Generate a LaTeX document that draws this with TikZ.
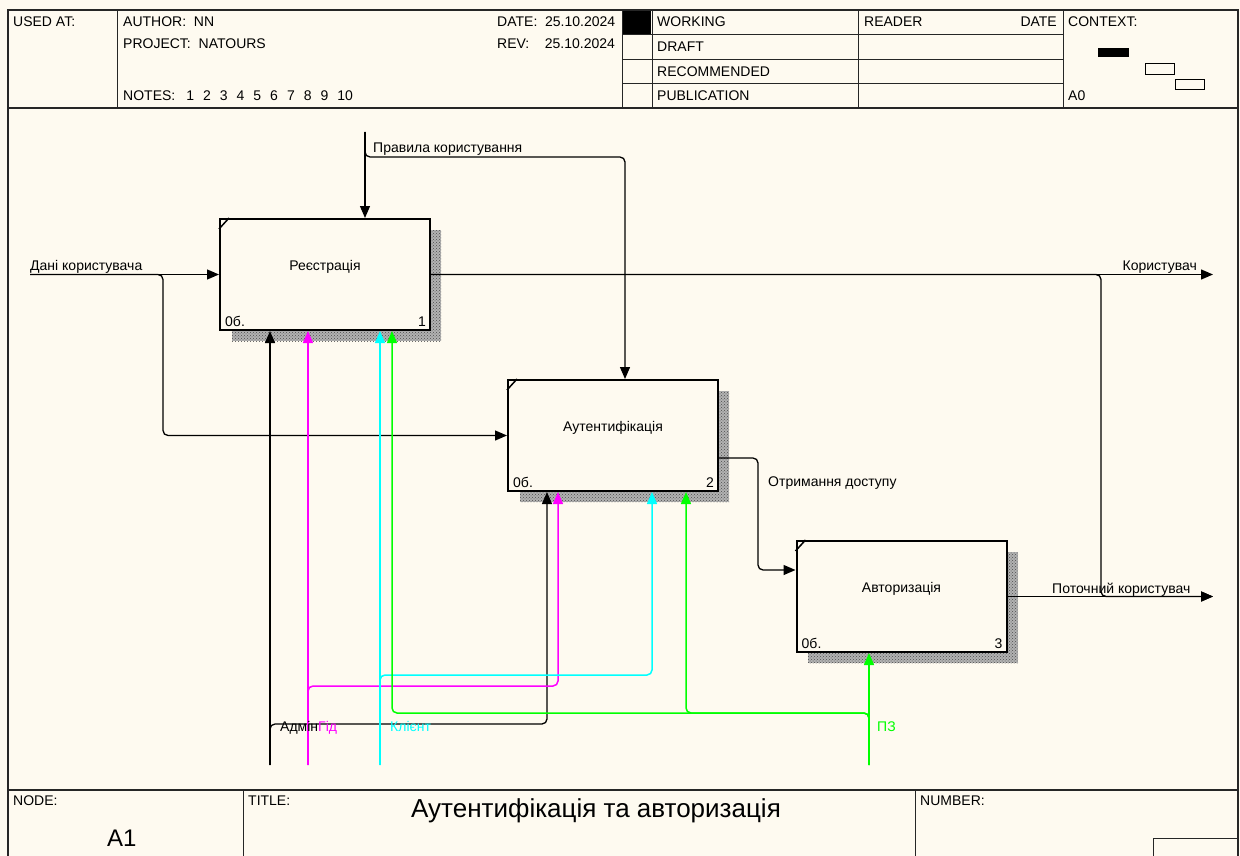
\documentclass[tikz,border=0pt]{standalone}
\usepackage{fontspec}
\setmainfont{Liberation Sans}
\usetikzlibrary{arrows.meta,patterns}
\definecolor{paper}{HTML}{FEFAF0}
\definecolor{idefmag}{HTML}{FF00FF}
\definecolor{idefcyan}{HTML}{00FFFF}
\definecolor{idefgreen}{HTML}{00FF00}

\begin{document}
\begin{tikzpicture}[x=1pt,y=-1pt,
  frameline/.style={line width=1.4pt, draw=black!85},
  gridline/.style={line width=1pt, draw=black!85},
  txt/.style={font=\fontsize{14}{16}\selectfont, inner sep=0pt},
  bigtxt/.style={font=\fontsize{26}{30}\selectfont, inner sep=0pt},
  procbox/.style={draw, line width=2pt, fill=paper, minimum width=210pt,
                  minimum height=111pt, inner sep=0pt},
  boxshadow/.style={fill=black!30, postaction={pattern=crosshatch dots, pattern color=black!70}},
  flow/.style={line width=1.3pt, rounded corners=5pt,
               -{Triangle[length=12pt,width=10pt]}},
  magflow/.style={flow, draw=idefmag, line width=1.5pt},
  cyanflow/.style={flow, draw=idefcyan, line width=1.5pt},
  greenflow/.style={flow, draw=idefgreen, line width=1.5pt},
]
\useasboundingbox (0,0) rectangle (1240,856);
\clip (0,0) rectangle (1240,856);
\fill[paper] (0,0) rectangle (1240,856);

% ---------- form frame ----------
\draw[frameline] (8,10) rectangle (1238,880);
\draw[frameline] (8,108) -- (1238,108);
\draw[frameline] (8,790) -- (1238,790);
\foreach \xx in {117,622,652,858,1063}
  \draw[gridline] (\xx,10) -- (\xx,108);
\foreach \yy in {35,60,84}
  \draw[gridline] (622,\yy) -- (1063,\yy);
\fill (623,11) rectangle (651,34);
\fill (1098,48) rectangle (1129,57);
\draw[line width=1pt] (1145,64) rectangle (1174,75);
\draw[line width=1pt] (1175,80) rectangle (1204,90);
\draw[gridline] (243,790) -- (243,880);
\draw[gridline] (915,790) -- (915,880);
\draw[gridline] (1153,838) rectangle (1238,880);

% ---------- header texts ----------
\node[txt, anchor=base west] (hUsed) at (13,27) {USED AT:};
\node[txt, anchor=base west] (hAuthor) at (123,27) {AUTHOR:\ \ NN};
\node[txt, anchor=base west] (hProject) at (123,49) {PROJECT:\ \ NATOURS};
\node[txt, anchor=base west] (hNotes) at (123,101)
  {NOTES:\hspace{11pt}1\hspace{9pt}2\hspace{9pt}3\hspace{9pt}4\hspace{9pt}5\hspace{9pt}6\hspace{9pt}7\hspace{9pt}8\hspace{9pt}9\hspace{9pt}10};
\node[txt, anchor=base west] (hDate) at (497,27) {DATE:\ \ 25.10.2024};
\node[txt, anchor=base west] (hRev) at (497,49) {REV:\ \ \ \ 25.10.2024};
\node[txt, anchor=base west] (hWork) at (657,27) {WORKING};
\node[txt, anchor=base west] (hDraft) at (657,52) {DRAFT};
\node[txt, anchor=base west] (hRec) at (657,77) {RECOMMENDED};
\node[txt, anchor=base west] (hPub) at (657,101) {PUBLICATION};
\node[txt, anchor=base west] (hReader) at (864,27) {READER};
\node[txt, anchor=base east] (hRDate) at (1057,27) {DATE};
\node[txt, anchor=base west] (hContext) at (1068,27) {CONTEXT:};
\node[txt, anchor=base west] (hA0) at (1068,101) {A0};

% ---------- footer texts ----------
\node[txt, anchor=base west] (fNode) at (13,805) {NODE:};
\node[bigtxt, font=\fontsize{24}{28}\selectfont, anchor=base west] (fA1) at (107,846) {A1};
\node[txt, anchor=base west] (fTitleLbl) at (248,805) {TITLE:};
\node[bigtxt, anchor=base] (fTitle) at (596,817) {Аутентифікація та авторизація};
\node[txt, anchor=base west] (fNumber) at (920,805) {NUMBER:};

% ---------- activity boxes ----------
\fill[boxshadow] (232,230) rectangle (441,341);
\fill[boxshadow] (520,391) rectangle (729,502);
\fill[boxshadow] (808,552) rectangle (1018,663);

\node[procbox] (b1) at (325,274.5) {};
\node[procbox] (b2) at (613,435.5) {};
\node[procbox] (b3) at (901.5,596.5) {};

\foreach \b/\nm/\num in {b1/Реєстрація/1, b2/Аутентифікація/2, b3/Авторизація/3}{
  \draw[line width=1.5pt] ([yshift=-11pt]\b.north west) -- ([xshift=10pt]\b.north west);
  \node[txt, anchor=base] (\b-name) at ([yshift=4.5pt]\b.center) {\nm};
  \node[txt, anchor=base west] (\b-cost) at ([shift={(6pt,5pt)}]\b.south west) {0б.};
  \node[txt, anchor=base east] (\b-num) at ([shift={(-5pt,5pt)}]\b.south east) {\num};
}

% ---------- free ends and bends ----------
\coordinate (inData) at (30,274.5);
\coordinate (ctlRules) at (365,132);
\coordinate (outUser) at (1213,274.5);
\coordinate (outCur) at (1213,596.5);
\coordinate (mAdmin) at (270,765);
\coordinate (mGuide) at (308,765);
\coordinate (mClient) at (380,765);
\coordinate (mSoft) at (869,765);

% inputs
\draw[flow] (inData) -- (b1.west);
\draw[flow] (inData) -- (163,274.5) -- (163,435.5) -- (b2.west);

% controls
\draw[flow] (ctlRules) -- (ctlRules |- b1.north);
\draw[flow] (ctlRules) -- (365,157) -- (625,157) -- ([xshift=12pt]b2.north);

% outputs
\draw[flow] (b1.east) -- (outUser);
\draw[flow] (b1.east) -- (1101,274.5) -- (1101,596.5) -- (outCur);
\draw[flow] (b3.east) -- (outCur);
\draw[flow] ([yshift=-22.5pt]b2.east) -- (758,458) -- (758,570) -- ([yshift=26.5pt]b3.west);

% mechanisms
\draw[flow] (mAdmin) -- (b1.south -| mAdmin);
\draw[flow] (mAdmin) -- (270,724) -- (547,724) -- ([xshift=-66pt]b2.south);
\draw[magflow] (mGuide) -- (b1.south -| mGuide);
\draw[magflow] (mGuide) -- (308,686) -- (558,686) -- ([xshift=-55pt]b2.south);
\draw[cyanflow] (mClient) -- (b1.south -| mClient);
\draw[cyanflow] (mClient) -- (380,675) -- (652,675) -- ([xshift=39pt]b2.south);
\draw[greenflow] (mSoft) -- (b3.south -| mSoft);
\draw[greenflow] (mSoft) -- (869,713) -- (686,713) -- ([xshift=73pt]b2.south);
\draw[greenflow] (mSoft) -- (869,713) -- (392,713) -- ([xshift=67pt]b1.south);

% ---------- connector labels ----------
\node[txt, anchor=base west] (lData) at (30,270) {Дані користувача};
\node[txt, anchor=base west] (lRules) at (373,153) {Правила користування};
\node[txt, anchor=base east] (lUser) at (1197,270) {Користувач};
\node[txt, anchor=base west] (lCur) at (1052,593) {Поточний користувач};
\node[txt, anchor=base west] (lAccess) at (768,486) {Отримання доступу};
\node[txt, anchor=base west] (lAdmin) at (280,731) {Адмін};
\node[txt, anchor=base west, text=idefmag] (lGuide) at (318,731) {Гід};
\node[txt, anchor=base west, text=idefcyan] (lClient) at (390,731) {Клієнт};
\node[txt, anchor=base west, text=idefgreen] (lSoft) at (877,731) {ПЗ};
\end{tikzpicture}
\end{document}
